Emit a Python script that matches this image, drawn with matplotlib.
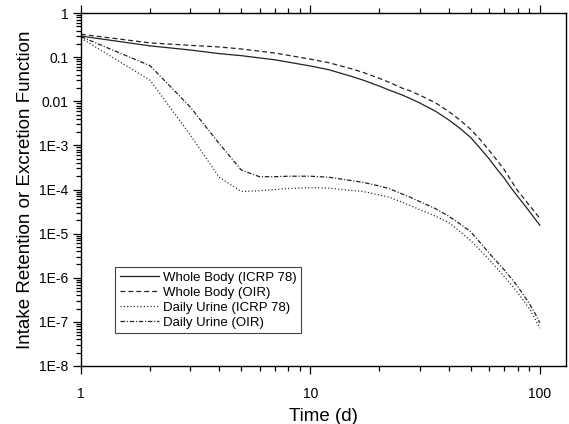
import numpy as np
import matplotlib
matplotlib.use("Agg")
import matplotlib.pyplot as plt
from matplotlib.ticker import LogLocator, FixedLocator, FixedFormatter, NullFormatter

plt.rcParams['font.family'] = ['Liberation Sans', 'DejaVu Sans']
plt.rcParams['lines.scale_dashes'] = False

days_wb = [1, 2, 3, 4, 5, 7, 10, 12, 15, 17, 20, 22, 25, 27, 30, 35, 40, 45, 50,
           55, 60, 65, 70, 75, 80, 85, 90, 95, 100]
wb_icrp78 = [0.30, 0.18, 0.145, 0.12, 0.108, 0.087, 0.063, 0.052, 0.037, 0.030, 0.022,
             0.018, 0.014, 0.0118, 0.0091, 6.0e-3, 3.8e-3, 2.4e-3, 1.5e-3,
             8.5e-4, 5.0e-4, 2.9e-4, 1.8e-4, 1.08e-4, 7.0e-5, 4.7e-5, 3.2e-5, 2.2e-5, 1.55e-5]
wb_oir = [0.33, 0.21, 0.185, 0.17, 0.153, 0.124, 0.090, 0.075, 0.055, 0.045, 0.033,
          0.027, 0.020, 0.0175, 0.0137, 9.3e-3, 5.9e-3, 3.7e-3, 2.3e-3,
          1.35e-3, 7.8e-4, 4.6e-4, 2.8e-4, 1.58e-4, 9.4e-5, 6.4e-5, 4.4e-5, 3.1e-5, 2.2e-5]

days_ur = [1, 2, 3, 4, 5, 6, 7, 8, 10, 12, 15, 17, 20, 22, 25, 27, 30, 35, 40, 45, 50,
           55, 60, 65, 70, 75, 80, 85, 90, 95, 100]
ur_icrp78 = [0.27, 0.030, 1.7e-3, 1.9e-4, 9.0e-5, 9.4e-5, 1.0e-4, 1.05e-4, 1.1e-4, 1.08e-4,
             9.5e-5, 9.0e-5, 7.5e-5, 6.7e-5, 5.2e-5, 4.4e-5, 3.5e-5, 2.5e-5, 1.8e-5, 1.1e-5,
             6.9e-6, 4.2e-6, 2.6e-6, 1.65e-6, 1.06e-6, 7.0e-7, 4.6e-7, 3.0e-7, 2.0e-7, 1.2e-7, 7.2e-8]
ur_oir = [0.29, 0.064, 7.3e-3, 1.1e-3, 2.75e-4, 1.95e-4, 1.95e-4, 2.0e-4, 2.0e-4, 1.9e-4,
          1.6e-4, 1.45e-4, 1.2e-4, 1.05e-4, 8.0e-5, 6.8e-5, 5.3e-5, 3.7e-5, 2.5e-5, 1.65e-5,
          1.1e-5, 6.2e-6, 3.65e-6, 2.3e-6, 1.5e-6, 9.7e-7, 6.4e-7, 4.0e-7, 2.6e-7, 1.6e-7, 9.5e-8]

labels = ["Whole Body (ICRP 78)", "Whole Body (OIR)", "Daily Urine (ICRP 78)", "Daily Urine (OIR)"]
ytick_vals = [1, 0.1, 0.01, 1e-3, 1e-4, 1e-5, 1e-6, 1e-7, 1e-8]
ytick_text = ["1", "0.1", "0.01", "1E-3", "1E-4", "1E-5", "1E-6", "1E-7", "1E-8"]

fig = plt.figure(figsize=(5.69, 4.24), dpi=100)
ax = fig.add_axes([0.1424, 0.1368, 0.8523, 0.8325])

col = "#222222"
ax.plot(days_wb, wb_icrp78, color=col, lw=0.9, ls='-', label=labels[0])
ax.plot(days_wb, wb_oir, color=col, lw=0.9, ls=(0, (3.5, 2.2)), label=labels[1])
ax.plot(days_ur, ur_icrp78, color=col, lw=0.9, ls=(0, (0.8, 1.6)), label=labels[2])
ax.plot(days_ur, ur_oir, color=col, lw=0.9, ls=(0, (3.2, 1.3, 0.8, 1.3)), label=labels[3])

ax.set_xscale('log')
ax.set_yscale('log')
ax.set_xlim(1, 130)
ax.set_ylim(1e-8, 1)

ax.yaxis.set_major_locator(FixedLocator(ytick_vals))
ax.yaxis.set_major_formatter(FixedFormatter(ytick_text))
ax.yaxis.set_minor_locator(LogLocator(base=10, subs=np.arange(2, 10), numticks=20))
ax.yaxis.set_minor_formatter(NullFormatter())
ax.xaxis.set_major_locator(FixedLocator([1, 10, 100]))
ax.xaxis.set_major_formatter(FixedFormatter(["1", "10", "100"]))
ax.xaxis.set_minor_locator(LogLocator(base=10, subs=np.arange(2, 10), numticks=20))
ax.xaxis.set_minor_formatter(NullFormatter())

ax.tick_params(which='both', direction='out', top=True, right=False, width=0.9, colors='black')
ax.tick_params(which='major', length=6, labelsize=10)
ax.tick_params(which='minor', length=3.5)
ax.tick_params(axis='x', which='major', pad=9)
ax.tick_params(axis='y', which='major', pad=3)
for s in ax.spines.values():
    s.set_linewidth(1.0)

ax.set_xlabel("Time (d)", fontsize=13.5, labelpad=5)
ax.set_ylabel("Intake Retention or Excretion Function", fontsize=13.5, labelpad=4)

leg = ax.legend(loc='lower left', bbox_to_anchor=(0.07, 0.093), fontsize=9.5,
                frameon=True, fancybox=False, framealpha=1, edgecolor='#444444',
                handlelength=3.0, handletextpad=0.3, labelspacing=0.2, borderpad=0.35,
                borderaxespad=0)
leg.get_frame().set_linewidth(0.8)

fig.savefig("out.png", dpi=100)
